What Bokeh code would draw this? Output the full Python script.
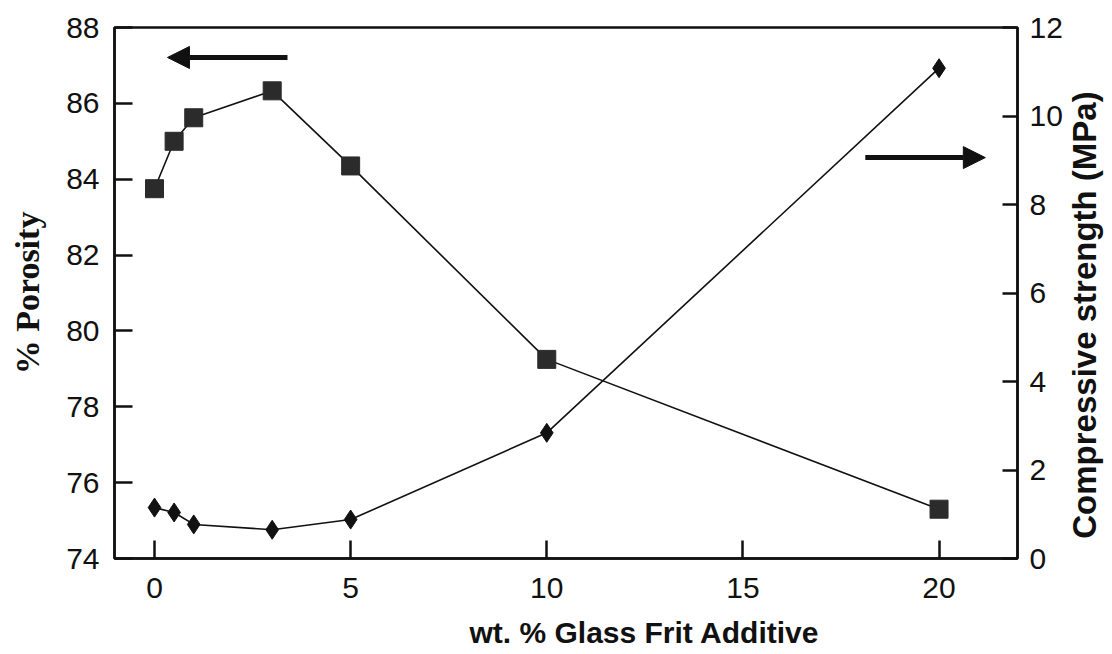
import math
from bokeh.plotting import figure
from bokeh.layouts import row, column
from bokeh.models import Range1d, LinearAxis, FixedTicker, Arrow, NormalHead, Label
from bokeh.embed import file_html
from bokeh.resources import INLINE

# Glass frit additive content (wt. %)
frit = [0, 0.5, 1, 3, 5, 10, 20]
# Porosity (%) - left axis
porosity = [83.75, 85.0, 85.62, 86.33, 84.35, 79.25, 75.3]
# Compressive strength (MPa) - right axis
strength = [1.15, 1.04, 0.77, 0.65, 0.88, 2.84, 11.08]

x_ticks = [0, 5, 10, 15, 20]
porosity_ticks = [74, 76, 78, 80, 82, 84, 86, 88]
strength_ticks = [0, 2, 4, 6, 8, 10, 12]

INK = "#111111"
TICK_FONT = "Liberation Sans"

p = figure(
    width=1066, height=615,
    x_range=Range1d(-1.02, 22.0),
    y_range=Range1d(74, 88),
    output_backend="svg", toolbar_location=None,
    min_border_left=114, min_border_right=49,
    min_border_top=27, min_border_bottom=57,
    background_fill_color="white", border_fill_color="white",
)
p.extra_y_ranges = {"strength": Range1d(0, 12)}

p.grid.visible = False
p.outline_line_color = INK
p.outline_line_width = 2.5

# Bottom axis
xa = p.xaxis[0]
xa.ticker = FixedTicker(ticks=x_ticks)
xa.minor_tick_line_color = None

# Left axis
ya = p.yaxis[0]
ya.ticker = FixedTicker(ticks=porosity_ticks)
ya.minor_tick_line_color = None
ya.axis_label = "% Porosity"
ya.axis_label_text_font = "Liberation Serif"
ya.axis_label_text_font_style = "bold"
ya.axis_label_text_font_size = "34px"
ya.axis_label_text_color = INK
ya.axis_label_standoff = 17

# Right axis for strength
ra = LinearAxis(y_range_name="strength", ticker=FixedTicker(ticks=strength_ticks))
ra.minor_tick_line_color = None
p.add_layout(ra, "right")

for ax in (xa, ya, ra):
    ax.axis_line_color = INK
    ax.axis_line_width = 2.5
    ax.major_tick_line_color = INK
    ax.major_tick_line_width = 2.5
    ax.major_tick_in = 18
    ax.major_tick_out = 0
    ax.major_label_text_font = TICK_FONT
    ax.major_label_text_font_size = "30px"
    ax.major_label_text_color = INK
ra.major_tick_in = 15
ya.major_label_standoff = 15
ra.major_label_standoff = 12
xa.major_label_standoff = 19

# Porosity curve
p.line(frit, porosity, line_color=INK, line_width=1.6)
p.scatter(frit, porosity, marker="square", size=18, fill_color="#2b2b2b",
          line_color="#2b2b2b")

# Compressive strength curve
p.line(frit, strength, line_color=INK, line_width=1.6, y_range_name="strength")
p.scatter(frit, strength, marker="diamond", size=19, fill_color=INK,
          line_color=INK, y_range_name="strength")

# Arrows pointing to the axis each curve belongs to
head_l = NormalHead(size=22, fill_color=INK, line_color=INK)
p.add_layout(Arrow(end=head_l, x_start=3.39, y_start=87.21, x_end=0.33, y_end=87.21,
                   line_color=INK, line_width=5))
head_r = NormalHead(size=22, fill_color=INK, line_color=INK)
p.add_layout(Arrow(end=head_r, x_start=18.12, y_start=84.57, x_end=21.18, y_end=84.57,
                   line_color=INK, line_width=5))


def strip(w, h):
    """Blank pixel-scaled panel used to hold a title."""
    f = figure(width=w, height=h, x_range=Range1d(0, w), y_range=Range1d(0, h),
               x_axis_location=None, y_axis_location=None,
               output_backend="svg", toolbar_location=None, min_border=0,
               background_fill_color="white", border_fill_color="white")
    f.grid.visible = False
    f.outline_line_color = None
    return f


# Strength axis title, reading bottom to top
side = strip(46, 615)
side.add_layout(Label(x=18, y=282, text="Compressive strength (MPa)",
                      angle=math.pi / 2, text_font="Liberation Sans",
                      text_font_style="bold", text_font_size="33px",
                      text_align="center", text_baseline="middle",
                      text_color=INK))

# Frit axis title
bottom = strip(1112, 39)
bottom.add_layout(Label(x=644, y=22, text="wt. % Glass Frit Additive",
                        text_font="Liberation Sans", text_font_style="bold",
                        text_font_size="30px", text_align="center",
                        text_baseline="middle", text_color=INK))

layout = column(row(p, side, spacing=0), bottom, spacing=0)

open("out.html", "w").write(file_html(layout, INLINE))
